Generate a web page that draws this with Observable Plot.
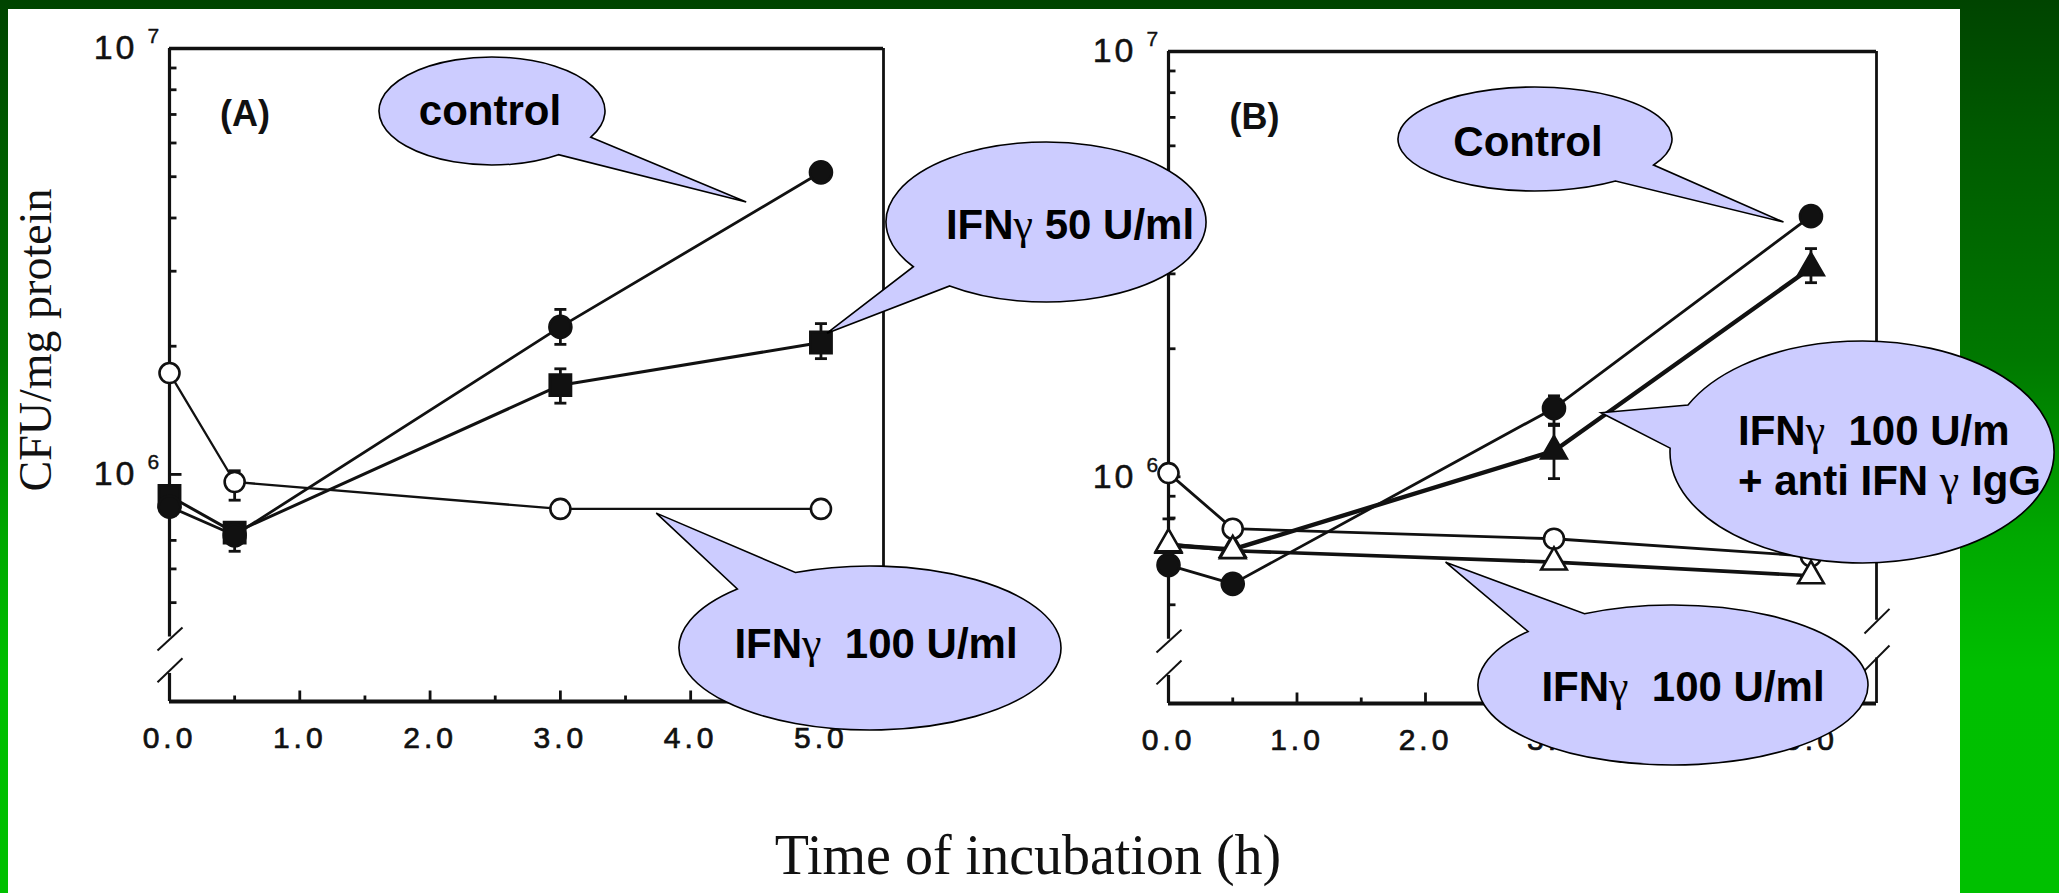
<!DOCTYPE html>
<html>
<head>
<meta charset="utf-8">
<script src="https://cdn.jsdelivr.net/npm/d3@7"></script>
<script src="https://cdn.jsdelivr.net/npm/@observablehq/plot@0.6"></script>
<style>
  html, body { margin: 0; padding: 0; }
  body {
    width: 2059px; height: 893px; overflow: hidden; position: relative;
    background: linear-gradient(180deg, #004400 0%, #005a00 15%, #007800 40%, #00a800 60%, #00bf00 75%, #00c000 100%);
  }
  #sheet { position: absolute; left: 8px; top: 9px; width: 1952px; height: 884px; background: #fff; }
</style>
</head>
<body>
<div id="sheet"></div>
<script>
const W = 2059, H = 893;

// ---------- data ----------
const times = [0, 0.5, 3, 5];
const xTicks = [0, 1, 2, 3, 4, 5];
const xTickLabels = ["0.0", "1.0", "2.0", "3.0", "4.0", "5.0"];
const xMinorTicks = [0.5, 1.5, 2.5, 3.5, 4.5];
const yMinorTicks = [5e5, 6e5, 7e5, 8e5, 9e5, 2e6, 3e6, 4e6, 5e6, 6e6, 7e6, 8e6, 9e6];
const yMajorTicks = [1e6];
const yLabelValues = [1e6, 1e7];
const yLabelExponents = ["6", "7"];

// Panel A
const aControl   = [8.4e5, 7.2e5, 2.22e6, 5.12e6];
const aControlLo = [null, null, 2.02e6, null];
const aControlHi = [null, null, 2.44e6, null];
const aIfn50     = [8.9e5, 7.3e5, 1.62e6, 2.04e6];
const aIfn50Lo   = [null, 6.6e5, 1.47e6, 1.87e6];
const aIfn50Hi   = [null, 7.3e5, 1.77e6, 2.26e6];
const aIfn100    = [1.73e6, 9.6e5, 8.3e5, 8.3e5];
const aIfn100Lo  = [null, 8.7e5, null, null];
const aIfn100Hi  = [null, 1.02e6, null, null];

// Panel B
const bControl   = [6.2e5, 5.6e5, 1.45e6, 4.1e6];
const bControlLo = [null, null, 1.32e6, null];
const bControlHi = [null, null, 1.55e6, null];
const bIfnAnti   = [6.9e5, 6.75e5, 1.15e6, 3.1e6];
const bIfnAntiLo = [null, null, 9.9e5, 2.86e6];
const bIfnAntiHi = [null, null, 1.33e6, 3.44e6];
const bIfn100    = [6.95e5, 6.7e5, 6.3e5, 5.85e5];
const bIfn100Lo  = [6.1e5, null, null, null];
const bIfn100Hi  = [7.96e5, null, null, null];
const bOpen      = [1.02e6, 7.55e5, 7.15e5, 6.5e5];
const bOpenLo    = [null, null, null, null];
const bOpenHi    = [null, null, null, null];

// ---------- layout ----------
const yDom = [2.93e5, 1e7];
const ink = "#111";
const sans = "'Liberation Sans', Arial, Helvetica, sans-serif";
const serif = "'Liberation Serif', 'Times New Roman', serif";

const layoutA = {
  left: 169, right: 883, top: 48, bottom: 701, xMax: 5.48,
  gapL: [3.41e5, 4.15e5], slashL: [[3.86e5, 4.37e5], [3.25e5, 3.70e5]],
  gapR: [3.41e5, 4.15e5], slashR: [[3.86e5, 4.37e5], [3.25e5, 3.70e5]],
  label: {text: "(A)", x: 0.58, y: 7.0e6}
};
const layoutB = {
  left: 1168, right: 1876, top: 51, bottom: 703, xMax: 5.51,
  gapL: [3.41e5, 4.15e5], slashL: [[3.86e5, 4.37e5], [3.25e5, 3.70e5]],
  gapR: [3.75e5, 4.6e5], slashR: [[4.28e5, 4.89e5], [3.50e5, 4.01e5]],
  label: {text: "(B)", x: 0.67, y: 7.0e6}
};

const seriesA = [
  {v: aIfn50,  lo: aIfn50Lo,  hi: aIfn50Hi,  symbol: "square", r: 12, fill: ink, lw: 3},
  {v: aControl, lo: aControlLo, hi: aControlHi, symbol: "circle", r: 11, fill: ink, lw: 2.8},
  {v: aIfn100, lo: aIfn100Lo, hi: aIfn100Hi, symbol: "circle", r: 10, fill: "white", lw: 2.3}
];
const seriesB = [
  {v: bControl, lo: bControlLo, hi: bControlHi, symbol: "circle", r: 11, fill: ink, lw: 2.8},
  {v: bIfnAnti, lo: bIfnAntiLo, hi: bIfnAntiHi, symbol: "triangle", r: 9.5, fill: ink, lw: 4.4},
  {v: bOpen,    lo: bOpenLo,    hi: bOpenHi,    symbol: "circle", r: 10, fill: "white", lw: 2.8},
  {v: bIfn100,  lo: bIfn100Lo,  hi: bIfn100Hi,  symbol: "triangle", r: 9.5, fill: "white", lw: 3.6}
];

function makePanel(L, series) {
  const D = (L.bottom - L.top) / Math.log10(yDom[1] / yDom[0]);
  const U = (L.right - L.left) / L.xMax;
  const px = p => p / U;
  const up = (v, p) => v * Math.pow(10, p / D);
  const marks = [];
  // frame
  marks.push(Plot.ruleY([yDom[1]], {x1: 0, x2: L.xMax, stroke: ink, strokeWidth: 3.4}));
  marks.push(Plot.ruleY([yDom[0]], {x1: 0, x2: L.xMax, stroke: ink, strokeWidth: 3.8}));
  for (const [x, gap, slashes, w] of [[0, L.gapL, L.slashL, 3.2], [L.xMax, L.gapR, L.slashR, 2.8]]) {
    marks.push(Plot.ruleX([x], {y1: gap[1], y2: yDom[1], stroke: ink, strokeWidth: w}));
    marks.push(Plot.ruleX([x], {y1: yDom[0], y2: gap[0], stroke: ink, strokeWidth: w}));
    marks.push(Plot.link(slashes, {x1: x + px(-12), x2: x + px(13), y1: d => d[0], y2: d => d[1], stroke: ink, strokeWidth: 2}));
  }
  // ticks
  marks.push(Plot.link(yMinorTicks, {x1: 0, x2: px(7), y1: d => d, y2: d => d, stroke: ink, strokeWidth: 2.8}));
  marks.push(Plot.link(yMajorTicks, {x1: 0, x2: px(12), y1: d => d, y2: d => d, stroke: ink, strokeWidth: 2.8}));
  marks.push(Plot.link(xMinorTicks, {x1: d => d, x2: d => d, y1: yDom[0], y2: up(yDom[0], 6), stroke: ink, strokeWidth: 2.8}));
  marks.push(Plot.link(xTicks.slice(1), {x1: d => d, x2: d => d, y1: yDom[0], y2: up(yDom[0], 11), stroke: ink, strokeWidth: 2.8}));
  // tick labels
  marks.push(Plot.text(yLabelValues, {x: 0, y: d => d, text: () => "10", textAnchor: "end", dx: -32, dy: 0, fontSize: 34, fill: ink, stroke: ink, strokeWidth: 0.5}));
  marks.push(Plot.text(yLabelValues, {x: 0, y: d => d, text: (d, i) => yLabelExponents[i], textAnchor: "start", dx: -22, dy: -12, fontSize: 21, fill: ink, stroke: ink, strokeWidth: 0.4}));
  marks.push(Plot.text(xTicks, {x: d => d, y: yDom[0], text: (d, i) => xTickLabels[i], dy: 37, fontSize: 30, fill: ink, stroke: ink, strokeWidth: 0.7}));
  marks.push(Plot.text([L.label], {x: "x", y: "y", text: "text", fontSize: 36, fontWeight: "bold", fill: ink}));
  // data
  const rowsOf = s => times.map((t, i) => ({t, v: s.v[i]}));
  for (const s of series) marks.push(Plot.line(rowsOf(s), {x: "t", y: "v", stroke: ink, strokeWidth: s.lw}));
  for (const s of series) {
    const err = times.map((t, i) => ({t, lo: s.lo[i], hi: s.hi[i]})).filter(d => d.lo != null);
    const caps = err.flatMap(d => [{t: d.t, y: d.lo}, {t: d.t, y: d.hi}]);
    marks.push(Plot.link(err, {x1: "t", x2: "t", y1: "lo", y2: "hi", stroke: ink, strokeWidth: 2.8}));
    marks.push(Plot.link(caps, {x1: d => d.t - px(6), x2: d => d.t + px(6), y1: "y", y2: "y", stroke: ink, strokeWidth: 2.8}));
  }
  for (const s of series) marks.push(Plot.dot(rowsOf(s), {x: "t", y: "v", symbol: s.symbol, r: s.r, fill: s.fill, stroke: ink, strokeWidth: 2.6}));

  const svg = Plot.plot({
    width: W, height: H,
    marginLeft: L.left, marginRight: W - L.right, marginTop: L.top, marginBottom: H - L.bottom,
    x: {domain: [0, L.xMax], axis: null},
    y: {type: "log", domain: yDom, axis: null},
    style: {position: "absolute", left: "0px", top: "0px", background: "transparent", overflow: "visible", fontFamily: sans, maxWidth: "none"},
    marks
  });
  // spaced-out tick label lettering, as in the scanned figure
  d3.select(svg).selectAll("text").filter(function() {
    return xTickLabels.includes(this.textContent) || this.textContent === "10";
  }).attr("letter-spacing", function() { return this.textContent === "10" ? 3 : 4; });
  return svg;
}

const chartA = makePanel(layoutA, seriesA);
const chartB = makePanel(layoutB, seriesB);
document.body.appendChild(chartA);
document.body.appendChild(chartB);
const charts = {A: chartA, B: chartB};

// ---------- overlay: titles and callouts ----------
const ov = d3.select("body").append("svg")
  .attr("width", W).attr("height", H)
  .style("position", "absolute").style("left", "0px").style("top", "0px");

ov.append("text").text("Time of incubation (h)")
  .attr("x", 1028).attr("y", 874).attr("text-anchor", "middle")
  .attr("font-family", serif).attr("font-size", 56).attr("fill", ink);
ov.append("text").text("CFU/mg protein")
  .attr("transform", "translate(51,340) rotate(-90)").attr("text-anchor", "middle")
  .attr("font-family", serif).attr("font-size", 46).attr("fill", ink);

const callouts = [
  {panel: "A", cx: 492, cy: 111, rx: 113, ry: 54, a1: 29, a2: 54, tip: [4.43, 4.35e6], lines: ["control"], tx: 490, ty: 125, anchor: "middle"},
  {panel: "A", cx: 1046, cy: 222, rx: 160, ry: 80, a1: 127, a2: 146, tip: [5.05, 2.14e6], lines: ["IFNγ 50 U/ml"], tx: 1070, ty: 239, anchor: "middle"},
  {panel: "A", cx: 870, cy: 648, rx: 191, ry: 82, a1: 226, a2: 247, tip: [3.74, 8.09e5], lines: ["IFNγ  100 U/ml"], tx: 876, ty: 658, anchor: "middle"},
  {panel: "B", cx: 1535, cy: 139, rx: 137, ry: 52, a1: 30, a2: 54, tip: [4.79, 3.96e6], lines: ["Control"], tx: 1528, ty: 156, anchor: "middle"},
  {panel: "B", cx: 1862, cy: 452, rx: 192, ry: 111, a1: 182, a2: 205, tip: [3.37, 1.41e6], lines: ["IFNγ  100 U/m", "+ anti IFN γ IgG"], tx: 1738, ty: 445, anchor: "start", gap: 50},
  {panel: "B", cx: 1673, cy: 685, rx: 195, ry: 80, a1: 222, a2: 243, tip: [2.16, 6.28e5], lines: ["IFNγ  100 U/ml"], tx: 1683, ty: 701, anchor: "middle"}
];

for (const c of callouts) {
  const ch = charts[c.panel];
  const tx = ch.scale("x").apply(c.tip[0]);
  const ty = ch.scale("y").apply(c.tip[1]);
  const P = a => [c.cx + c.rx * Math.cos(a * Math.PI / 180), c.cy + c.ry * Math.sin(a * Math.PI / 180)];
  const p1 = P(c.a1), p2 = P(c.a2);
  const d = `M${p2[0]},${p2[1]} A${c.rx},${c.ry} 0 1 1 ${p1[0]},${p1[1]} L${tx},${ty} Z`;
  ov.append("path").attr("d", d).attr("fill", "#ccccff").attr("stroke", "#000").attr("stroke-width", 1.6).attr("stroke-linejoin", "miter");
  c.lines.forEach((line, i) => {
    const t = ov.append("text")
      .attr("x", c.tx).attr("y", c.ty + i * (c.gap || 0))
      .attr("text-anchor", c.anchor)
      .attr("font-family", sans).attr("font-weight", "bold").attr("font-size", 42)
      .attr("fill", "#000").style("white-space", "pre");
    line.split(/(γ)/).filter(s => s.length).forEach(part => {
      const ts = t.append("tspan").text(part);
      if (part === "γ") ts.attr("font-family", serif).attr("font-weight", "normal").attr("font-size", 44);
    });
  });
}
</script>
</body>
</html>
